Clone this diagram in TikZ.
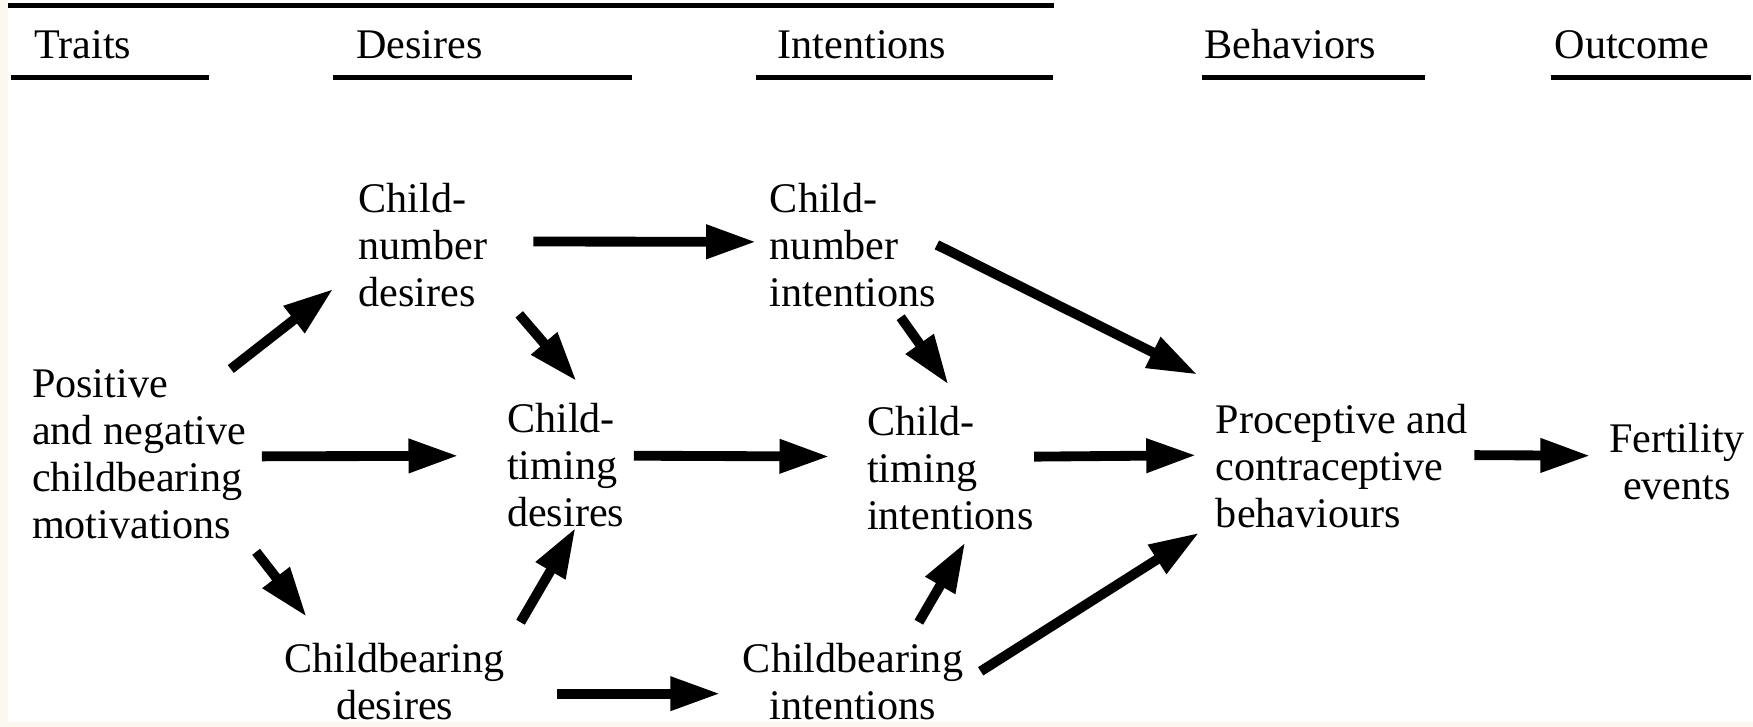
\documentclass[tikz,border=0pt]{standalone}
\usepackage{fontspec}
\setmainfont{Liberation Serif}
\usetikzlibrary{arrows.meta}

\definecolor{cream}{RGB}{252,248,240}

\begin{document}
\begin{tikzpicture}[x=0.01118cm, y=-0.01118cm, font=\fontsize{12pt}{13.4pt}\selectfont,
	box/.style={inner sep=0pt, align=left, anchor=base west},
	cbox/.style={inner sep=0pt, align=center, anchor=base},
	head/.style={inner sep=0pt, anchor=base west},
	rule/.style={line width=1.4pt},
	link/.style={-{Triangle[length=5mm, width=3.2mm]}, line width=2.8pt}]
		
		\useasboundingbox (0,0) rectangle (1568,650);
		\fill[white] (0,0) rectangle (1568,650);
		\fill[cream] (0,0) rectangle (7,650);
		\fill[cream] (0,646) rectangle (1568,650);
		
		\node (traits) [head] at (30,52) {Traits};
		\node (desires) [head] at (318,52) {Desires};
		\node (intent) [head] at (695,52) {Intentions};
		\node (behav) [head] at (1077,52) {Behaviors};
		\node (outcome) [head] at (1390,52) {Outcome};
		
		\draw[rule] (7,5) -- (943,5);
		\draw[rule] (10,69) -- (187,69);
		\draw[rule] (298,69) -- (565,69);
		\draw[rule] (676,69) -- (942,69);
		\draw[rule] (1075,69) -- (1275,69);
		\draw[rule] (1387,69) -- (1566,69);
		
		\node (motiv) [box] at (28,482) {Positive\\and negative\\childbearing\\motivations};
		\node (cnd) [box] at (320,274) {Child-\\number\\desires};
		\node (ctd) [box] at (453,471) {Child-\\timing\\desires};
		\node (cbd) [cbox] at (353,644) {Childbearing\\desires};
		\node (cni) [box] at (688,274) {Child-\\number\\intentions};
		\node (cti) [box] at (775,474) {Child-\\timing\\intentions};
		\node (cbi) [cbox] at (763,644) {Childbearing\\intentions};
		\node (pcb) [box] at (1087,472) {Proceptive and\\contraceptive\\behaviours};
		\node (fert) [cbox] at (1500,447) {Fertility\\events};
		
		\path[link]
		(motiv.43) edge [shorten >=3.1mm] (cnd.201)
		(motiv.-1) edge [shorten <=1.5mm, shorten >=4.8mm] (ctd.171)
		(motiv.south east) edge [shorten <=1.5mm, shorten >=3.3mm] (cbd.150)
		
		(cnd.3) edge [shorten <=4.55mm, shorten >=1.3mm] (cni.178)
		(cnd.-27) edge [shorten <=4.8mm, shorten >=2.8mm] (ctd.65)
		
		(cbd.17) edge [shorten <=3mm] (ctd.-81)
		(cbd.-6) edge [shorten <=5.2mm, shorten >=2.2mm] (cbi.186)
		
		(ctd.9) edge [shorten <=0.9mm, shorten >=3.7mm] (cti.172)
		
		(cni.-57) edge [shorten <=1.2mm, shorten >=2.6mm] (cti.78)
		(cni.east) edge [shorten >=6.5mm] (pcb.144)
		
		(cbi.36) edge [shorten <=2.4mm, shorten >=1.3mm] (cti.-71)
		(cbi.east) edge [shorten <=2mm, shorten >=1.9mm] (pcb.204)
		
		(cti.8) edge [shorten >=1.9mm] (pcb.175)
		
		(pcb.5) edge [shorten <=0.6mm, shorten >=1.8mm] (fert.175);
		
\end{tikzpicture}
\end{document}
